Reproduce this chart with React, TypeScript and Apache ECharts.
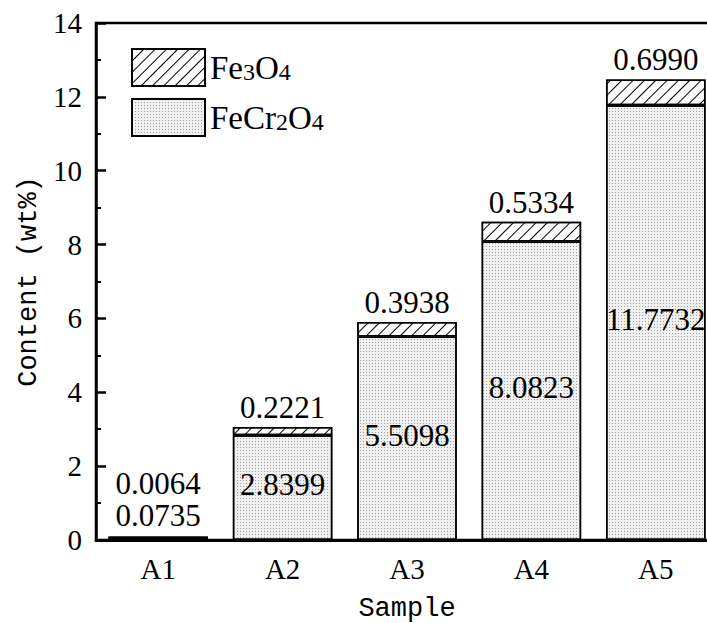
import React, { useEffect, useRef } from "react";
import * as echarts from "echarts";

const categories = ["A1", "A2", "A3", "A4", "A5"];
const feCr2O4 = [0.0735, 2.8399, 5.5098, 8.0823, 11.7732];
const fe3O4 = [0.0064, 0.2221, 0.3938, 0.5334, 0.699];
const feCr2O4Labels = ["0.0735", "2.8399", "5.5098", "8.0823", "11.7732"];
const fe3O4Labels = ["0.0064", "0.2221", "0.3938", "0.5334", "0.6990"];
const yTicks = [0, 2, 4, 6, 8, 10, 12, 14];

const SERIF = "'Liberation Serif', 'Times New Roman', serif";
const MONO = "'Liberation Mono', 'DejaVu Sans Mono', monospace";

export default function App() {
  const ref = useRef<HTMLDivElement>(null);
  useEffect(() => {
    if (!ref.current) return;
    const chart = echarts.init(ref.current, null, { renderer: "svg" });
    const labelFont = { fontFamily: SERIF, fontSize: 31, color: "#000", lineHeight: 27 };
    chart.setOption({
      animation: false,
      backgroundColor: "#fff",
      grid: {
        left: 96,
        top: 23,
        width: 622,
        height: 517,
        show: true,
        borderColor: "#000",
        borderWidth: 2.5,
        backgroundColor: "transparent",
        outerBoundsMode: "none",
        containLabel: false,
      },
      legend: {
        orient: "vertical",
        left: 131,
        top: 48,
        itemWidth: 73,
        itemHeight: 37,
        itemGap: 11,
        icon: "rect",
        padding: 0,
        data: ["Fe3O4", "FeCr2O4"],
        formatter: (name: string) =>
          name === "Fe3O4"
            ? "{a|Fe}{s|3}{a|O}{s|4}"
            : "{a|FeCr}{s|2}{a|O}{s|4}",
        textStyle: {
          rich: {
            a: { fontFamily: SERIF, fontSize: 33, color: "#000", lineHeight: 32 },
            s: {
              fontFamily: SERIF,
              fontSize: 24,
              color: "#000",
              verticalAlign: "bottom",
              lineHeight: 10,
            },
          },
        },
      },
      xAxis: {
        type: "category",
        data: categories,
        name: "Sample",
        nameLocation: "middle",
        nameGap: 55,
        nameTextStyle: { fontFamily: MONO, fontSize: 27, color: "#000" },
        axisLine: { show: true, lineStyle: { color: "#000", width: 3 } },
        axisTick: { show: false },
        axisLabel: {
          fontFamily: SERIF,
          fontSize: 29,
          color: "#000",
          margin: 14,
        },
      },
      yAxis: {
        type: "value",
        min: yTicks[0],
        max: yTicks[yTicks.length - 1],
        interval: 2,
        name: "Content (wt%)",
        nameLocation: "middle",
        nameGap: 51,
        nameTextStyle: { fontFamily: MONO, fontSize: 27, color: "#000" },
        axisLine: { show: true, lineStyle: { color: "#000", width: 2.5 } },
        axisTick: {
          show: true,
          inside: true,
          length: 10,
          lineStyle: { color: "#000", width: 2.5 },
        },
        minorTick: {
          show: true,
          splitNumber: 2,
          length: 5,
          lineStyle: { color: "#000", width: 2 },
        },
        splitLine: { show: false },
        axisLabel: {
          fontFamily: SERIF,
          fontSize: 29,
          color: "#000",
          margin: 14,
        },
      },
      series: [
        {
          name: "FeCr2O4",
          type: "bar",
          stack: "total",
          barWidth: "80%",
          itemStyle: {
            color: "#f0f0f0",
            borderColor: "#000",
            borderWidth: 1.5,
            decal: {
              symbol: "rect",
              symbolSize: 1,
              dashArrayX: [1, 2],
              dashArrayY: [1, 2],
              color: "#a0a0a0",
            },
          },
          data: feCr2O4.map((v, i) =>
            i === 0
              ? {
                  value: v,
                  label: { position: "top", distance: 5 },
                }
              : { value: v }
          ),
          label: {
            show: true,
            position: "inside",
            offset: [0, -3],
            formatter: (p: any) => feCr2O4Labels[p.dataIndex],
            ...labelFont,
          },
        },
        {
          name: "Fe3O4",
          type: "bar",
          stack: "total",
          barWidth: "80%",
          itemStyle: {
            color: "#fff",
            borderColor: "#000",
            borderWidth: 1.5,
            decal: {
              symbol: "rect",
              symbolSize: 1,
              dashArrayX: [1, 0],
              dashArrayY: [1, 6.5],
              rotation: -Math.PI / 4,
              color: "#000",
            },
          },
          data: fe3O4.map((v, i) =>
            i === 0
              ? { value: v, label: { distance: 39 } }
              : { value: v }
          ),
          label: {
            show: true,
            position: "top",
            distance: 6,
            formatter: (p: any) => fe3O4Labels[p.dataIndex],
            ...labelFont,
          },
        },
      ],
    });
    return () => chart.dispose();
  }, []);
  return (
    <div
      ref={ref}
      style={{ position: "fixed", left: 0, top: 0, width: 707, height: 623 }}
    />
  );
}
